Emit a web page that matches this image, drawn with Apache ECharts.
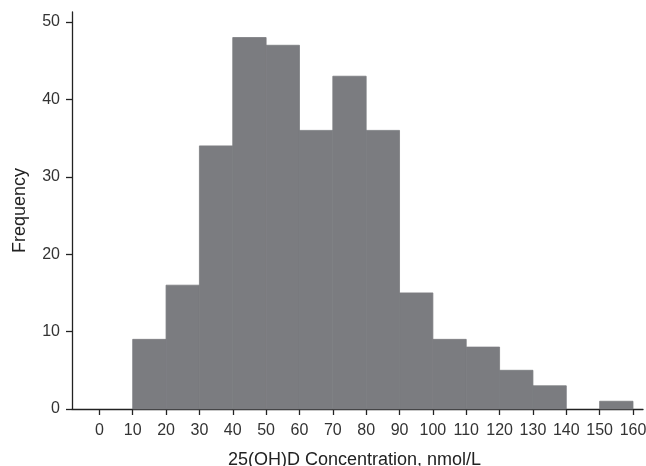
<!DOCTYPE html>
<html><head><meta charset="utf-8">
<script src="https://cdn.jsdelivr.net/npm/echarts@6/dist/echarts.min.js"></script>
<style>html,body{margin:0;padding:0;background:#fff}#c{width:646px;height:466px}</style>
</head><body><div id="c"></div>
<script>
var binStarts = [10,20,30,40,50,60,70,80,90,100,110,120,130,140,150];
var binWidth = 10;
var frequencies = [9,16,34,48,47,36,43,36,15,9,8,5,3,0,1];
var xTicks = [0,10,20,30,40,50,60,70,80,90,100,110,120,130,140,150,160];
var yTicks = [0,10,20,30,40,50];

var data = binStarts.map(function(s,i){return [s, s+binWidth, frequencies[i]];});
var font = '"Liberation Sans", Arial, sans-serif';
var chart = echarts.init(document.getElementById('c'));
chart.setOption({
  animation:false,
  grid:{left:72,right:3,top:12,bottom:57,containLabel:false,outerBoundsMode:'none'},
  xAxis:{type:'value',min:-8.2,max:163,
    name:'25(OH)D Concentration, nmol/L',nameLocation:'middle',nameGap:42,
    nameTextStyle:{fontFamily:font,fontSize:18,color:'#222',padding:[0,6,0,0]},
    axisLine:{show:true,onZero:false,lineStyle:{color:'#222',width:1.3}},
    axisTick:{show:true,customValues:xTicks,length:6,lineStyle:{color:'#222',width:1.3}},
    axisLabel:{customValues:xTicks,fontFamily:font,fontSize:16,color:'#333',margin:14},
    splitLine:{show:false}},
  yAxis:{type:'value',min:0,max:51.3,
    name:'Frequency',nameLocation:'middle',nameGap:43,
    nameTextStyle:{fontFamily:font,fontSize:18,color:'#222'},
    axisLine:{show:true,onZero:false,lineStyle:{color:'#222',width:1.3}},
    axisTick:{show:true,customValues:yTicks,length:6,lineStyle:{color:'#222',width:1.3}},
    axisLabel:{customValues:yTicks,fontFamily:font,fontSize:16,color:'#333',margin:12},
    splitLine:{show:false}},
  series:[{type:'custom',data:data,encode:{x:[0,1],y:2},
    renderItem:function(params,api){
      if (api.value(2) <= 0) return null;
      var p0=api.coord([api.value(0),0]);
      var p1=api.coord([api.value(1),api.value(2)]);
      return {type:'rect',shape:{x:p0[0],y:p1[1],width:p1[0]-p0[0],height:p0[1]-p1[1]},
        style:{fill:'#7b7c80',stroke:'#7b7c80',lineWidth:0.8}};
    }}]
});
</script></body></html>
